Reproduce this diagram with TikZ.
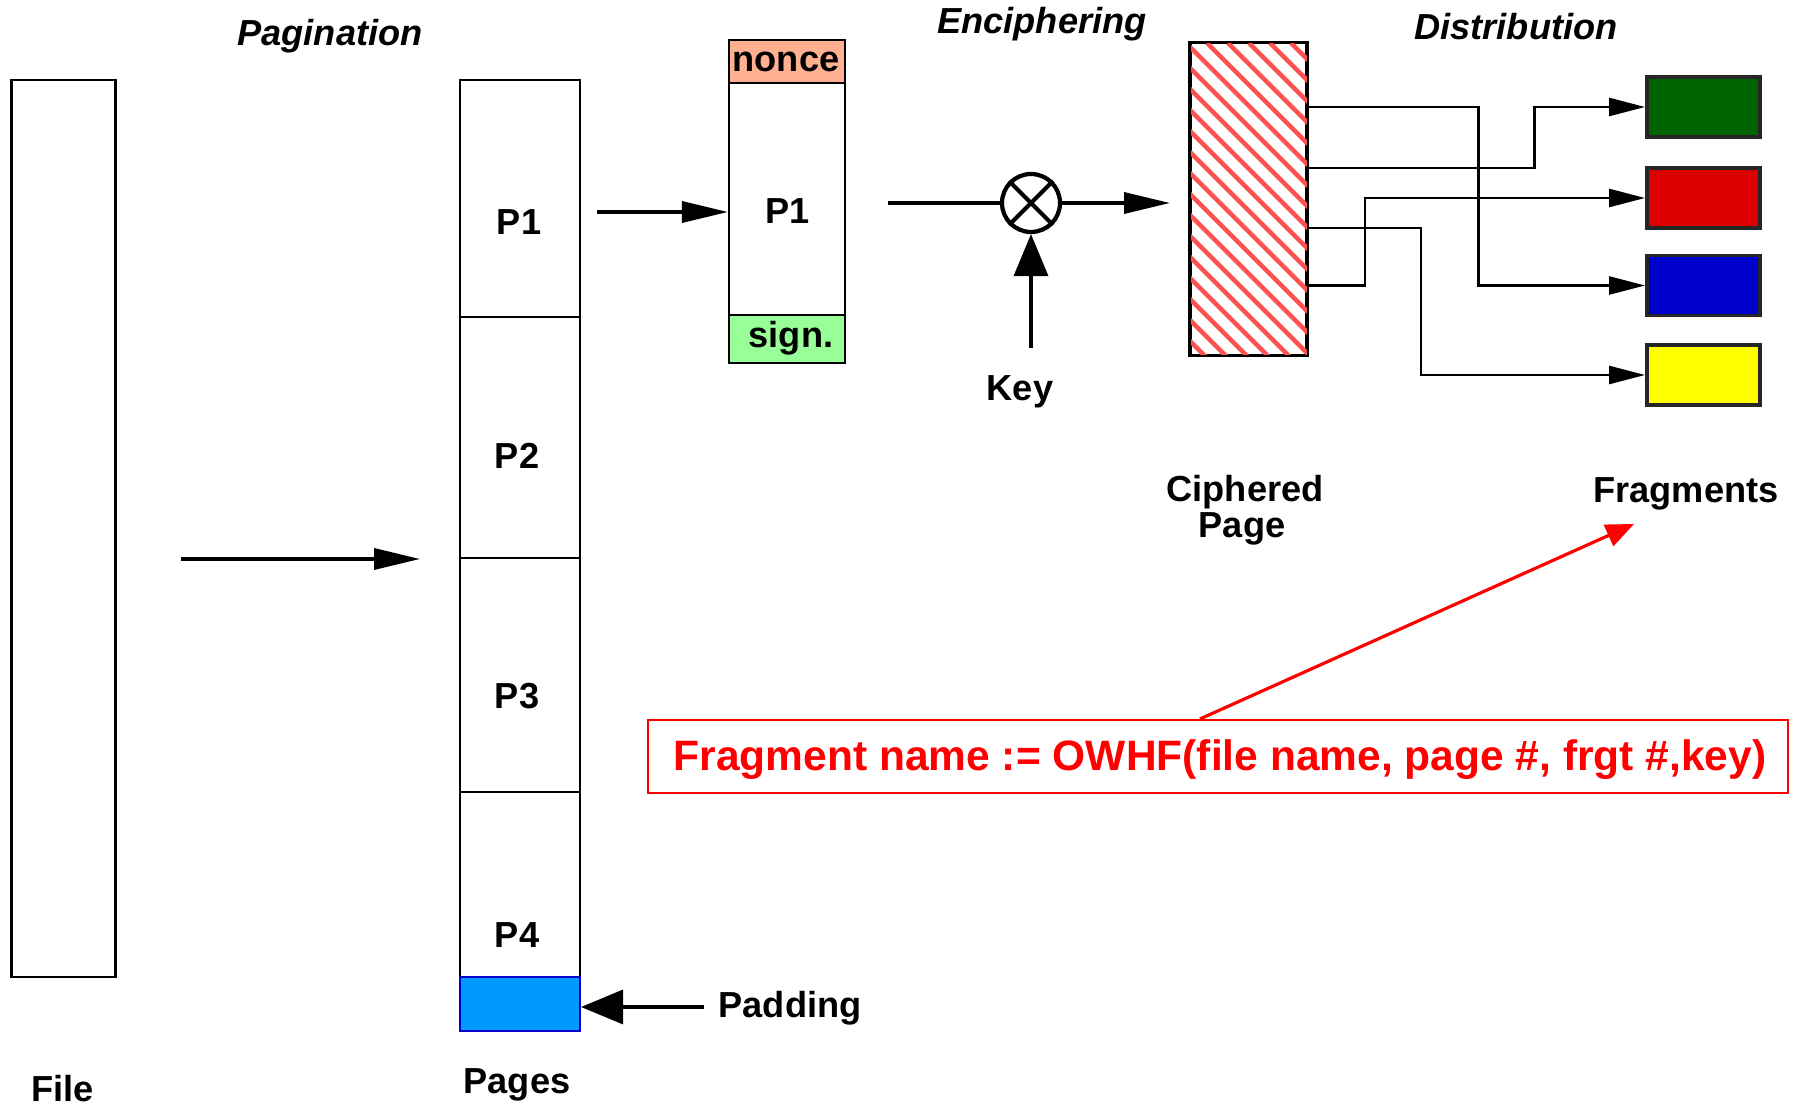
\documentclass[tikz,border=0pt]{standalone}
\usepackage{fontspec}
\setmainfont{Liberation Sans}
\usetikzlibrary{arrows.meta,positioning}
\definecolor{noncecol}{RGB}{255,176,144}
\definecolor{signcol}{RGB}{152,255,152}
\definecolor{padcol}{RGB}{0,153,255}
\definecolor{hatchcol}{RGB}{255,80,80}
\definecolor{frgreen}{RGB}{0,100,0}
\definecolor{frred}{RGB}{221,0,0}
\definecolor{frblue}{RGB}{0,0,204}
\definecolor{fryellow}{RGB}{255,255,0}
\tikzset{
  cell/.style={draw,line width=0.6pt,inner sep=0pt,minimum width=12mm},
  lbl/.style={font=\fontsize{10.3}{7.4}\selectfont\bfseries,inner sep=0pt,anchor=base},
  ttl/.style={lbl,font=\fontsize{10.3}{7.4}\selectfont\bfseries\itshape},
  flow/.style={line width=1pt,-{Triangle[length=4.6mm,width=2.1mm]}},
  fatflow/.style={line width=1pt,-{Triangle[length=4.2mm,width=3.4mm]}},
  route/.style={line width=0.7pt,-{Triangle[length=3.6mm,width=1.8mm]}},
  frag/.style={draw=black!85,line width=1.1pt,inner sep=0pt,minimum width=11.3mm,minimum height=6mm},
}

\begin{document}
\begin{tikzpicture}[x=0.1mm,y=-0.1mm]
\useasboundingbox (0,0) rectangle (1796,1105);
% step titles
\node[ttl] (tpag) at (330,45.5) {Pagination};
\node[ttl] (tenc) at (1042,34) {Enciphering};
\node[ttl] (tdist) at (1516,40) {Distribution};
% the file
\node[cell,minimum width=10.4mm,minimum height=89.7mm] (file) at (63.5,528.5) {};
\node[lbl] (lfile) at (62.5,1101) {File};
\coordinate (pagA) at (181,559);
\coordinate (pagB) at (420,559);
\draw[flow] (pagA) -- (pagB);
% the pages, with padding
\node[cell,minimum height=23.7mm] (pg1) at (520,198.5) {};
\node[cell,minimum height=24.1mm] (pg2) at (520,437.5) {};
\node[cell,minimum height=23.4mm] (pg3) at (520,675) {};
\node[cell,minimum height=18.5mm] (pg4) at (520,884.5) {};
\node[cell,draw=blue!80!black,fill=padcol,minimum height=5.4mm] (pad) at (520,1004) {};
\node[lbl] (lp1) at (519,235) {P1};
\node[lbl] (lp2) at (517,469) {P2};
\node[lbl] (lp3) at (517,708) {P3};
\node[lbl] (lp4) at (517,947) {P4};
\node[lbl] (lpages) at (517,1093) {Pages};
\coordinate (padfoot) at (704,1007);
\draw[fatflow] (padfoot) -- (padfoot -| pad.east);
\node[lbl,anchor=base west] (lpad) at (718,1017) {Padding};
% one page with nonce and signature
\node[cell,fill=noncecol,minimum width=11.6mm,minimum height=4.3mm] (nonce) at (787,61.5) {};
\node[cell,minimum width=11.6mm,minimum height=23.2mm] (body) at (787,199) {};
\node[cell,fill=signcol,minimum width=11.6mm,minimum height=4.8mm] (sign) at (787,339) {};
\node[lbl] (lnonce) at (786,72) {nonce};
\node[lbl] (lbody) at (787.5,224) {P1};
\node[lbl] (lsign) at (791,348) {sign.};
\coordinate (pgout) at (597,212);
\draw[flow] (pgout) -- (pgout -| body.west);
% enciphering with the key
\node[circle,draw,line width=1.2pt,minimum size=5.8mm,inner sep=0pt] (xor) at (1031,203) {};
\draw[line width=1.2pt] (xor.north west) -- (xor.south east) (xor.north east) -- (xor.south west);
\coordinate (encin) at (888,203);
\coordinate (encout) at (1170,203);
\coordinate (keyfoot) at (1031,348);
\draw[line width=1pt] (encin) -- (xor.west);
\draw[flow] (xor.east) -- (encout);
\draw[fatflow] (keyfoot) -- (xor.south);
\node[lbl] (lkey) at (1020,401) {Key};
% the ciphered page
\node[draw,line width=0.7pt,inner sep=0pt,minimum width=11.6mm,minimum height=31.2mm] (ciph) at (1248.5,199) {};
\begin{scope}
\clip (ciph.north west) rectangle (ciph.south east);
\foreach \t in {-340,-319,...,130}
  {\draw[hatchcol,line width=0.45mm] (1190+\t,43) -- ++(330,330);}
\end{scope}
\draw[line width=0.7pt] (ciph.north west) rectangle (ciph.south east);
\node[lbl] (lciph1) at (1245,502) {Ciphered};
\node[lbl] (lciph2) at (1242,538) {Page};
% the fragments
\node[frag,fill=frgreen] (fgreen) at (1703.5,107) {};
\node[frag,fill=frred] (fred) at (1703.5,198) {};
\node[frag,fill=frblue] (fblue) at (1703.5,285.5) {};
\node[frag,fill=fryellow] (fyellow) at (1703.5,375) {};
\node[lbl] (lfrags) at (1686,502.5) {Fragments};
\coordinate (out1) at (1307,107);
\coordinate (out2) at (1307,168);
\coordinate (out3) at (1307,228);
\coordinate (out4) at (1307,285.5);
\coordinate (b1) at (1478.5,0);
\coordinate (b2) at (1534.5,0);
\coordinate (b3) at (1421,0);
\coordinate (b4) at (1365,0);
\draw[route] (out1) -- (out1 -| b1) |- (fblue.west);
\draw[route] (out2) -- (out2 -| b2) |- (fgreen.west);
\draw[route] (out3) -- (out3 -| b3) |- (fyellow.west);
\draw[route] (out4) -- (out4 -| b4) |- (fred.west);
% naming of the fragments
\node[draw=red,line width=0.6pt,inner sep=0pt,minimum width=114mm,minimum height=7.3mm] (owhf) at (1218,756.5) {};
\node[lbl,text=red,font=\fontsize{12.1}{14}\selectfont\bfseries] (lowhf) at (1220,771) {Fragment name := OWHF(file name, page \#, frgt \#,key)};
\coordinate (fragtip) at (1634,524);
\draw[red,line width=0.9pt,-{Triangle[length=2.8mm,width=2.3mm]}] ([xshift=-1.8mm]owhf.north) -- (fragtip);
\end{tikzpicture}
\end{document}
